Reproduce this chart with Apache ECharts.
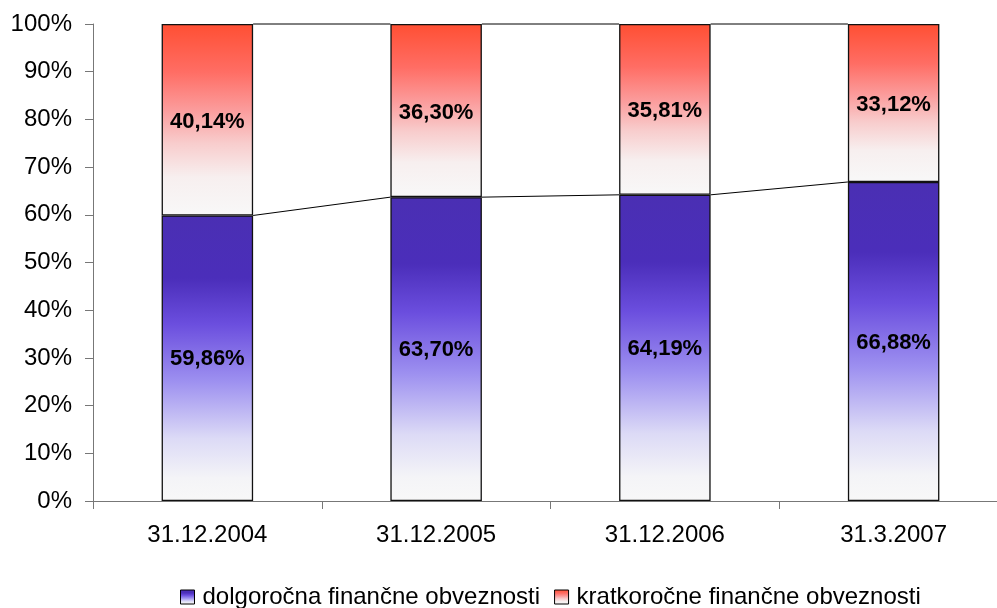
<!DOCTYPE html>
<html>
<head>
<meta charset="utf-8">
<script src="https://cdn.jsdelivr.net/npm/echarts@6/dist/echarts.min.js"></script>
<style>html,body{margin:0;padding:0;background:#fff;overflow:hidden}#c{width:1012px;height:608px}</style>
</head>
<body>
<div id="c"></div>
<script>
const categories = ['31.12.2004', '31.12.2005', '31.12.2006', '31.3.2007'];
const longTerm = [59.86, 63.70, 64.19, 66.88];
const shortTerm = [40.14, 36.30, 35.81, 33.12];
const seriesNames = ['dolgoročna finančne obveznosti', 'kratkoročne finančne obveznosti'];
const yTicks = [0, 10, 20, 30, 40, 50, 60, 70, 80, 90, 100];

const FONT = '"Liberation Sans", Arial, sans-serif';
const fmt = v => v.toFixed(2).replace('.', ',') + '%';

const blueGrad = new echarts.graphic.LinearGradient(0, 0, 0, 1, [
  {offset: 0, color: '#4a2fb3'},
  {offset: 0.22, color: '#4b2eba'},
  {offset: 0.38, color: '#6b4ede'},
  {offset: 0.58, color: '#9d90f0'},
  {offset: 0.78, color: '#dcdaf6'},
  {offset: 0.92, color: '#f4f4f7'},
  {offset: 1, color: '#f8f8f8'}
]);
const redGrad = new echarts.graphic.LinearGradient(0, 0, 0, 1, [
  {offset: 0, color: '#ff4f33'},
  {offset: 0.25, color: '#ff6d64'},
  {offset: 0.45, color: '#fb9c9c'},
  {offset: 0.62, color: '#f8cccc'},
  {offset: 0.8, color: '#f7efef'},
  {offset: 1, color: '#f8f8f8'}
]);

// connector (series line) data built from the values
const connectors = [];
for (let i = 0; i < categories.length - 1; i++) {
  connectors.push([i, longTerm[i], i + 1, longTerm[i + 1]]);
  connectors.push([i, longTerm[i] + shortTerm[i], i + 1, longTerm[i + 1] + shortTerm[i + 1]]);
}

const chart = echarts.init(document.getElementById('c'), null, {renderer: 'canvas'});
chart.setOption({
  animation: false,
  backgroundColor: '#fff',
  grid: {left: 93, top: 24, right: 4, height: 477, containLabel: false},
  legend: {
    data: seriesNames,
    left: 175, top: 580,
    itemWidth: 14, itemHeight: 14, itemGap: 14,
    icon: 'rect',
    textStyle: {fontFamily: FONT, fontSize: 24, color: '#000', padding: [0, 0, 0, 3]},
    itemStyle: {borderColor: '#000', borderWidth: 1}
  },
  xAxis: {
    type: 'category',
    data: categories,
    axisLine: {lineStyle: {color: '#777', width: 1}},
    axisTick: {show: true, length: 8, alignWithLabel: false, lineStyle: {color: '#777'}},
    axisLabel: {fontFamily: FONT, fontSize: 24, color: '#000', margin: 22}
  },
  yAxis: {
    type: 'value',
    min: 0, max: 100, interval: 10,
    splitLine: {show: false},
    axisLine: {show: true, lineStyle: {color: '#777', width: 1}},
    axisTick: {show: true, length: 8, lineStyle: {color: '#777'}},
    axisLabel: {fontFamily: FONT, fontSize: 24, color: '#000', margin: 21,
      formatter: v => yTicks.includes(v) ? v + '%' : ''}
  },
  series: [
    {
      name: seriesNames[0], type: 'bar', stack: 's', data: longTerm,
      barWidth: '40%',
      itemStyle: {color: blueGrad, borderColor: '#111', borderWidth: 1.3},
      label: {show: true, position: 'inside', offset: [0, 1], fontFamily: FONT, fontSize: 22, fontWeight: 'bold', color: '#000',
        formatter: p => fmt(p.value)}
    },
    {
      name: seriesNames[1], type: 'bar', stack: 's', data: shortTerm,
      barWidth: '40%',
      itemStyle: {color: redGrad, borderColor: '#111', borderWidth: 1.3},
      label: {show: true, position: 'inside', offset: [0, 2], fontFamily: FONT, fontSize: 22, fontWeight: 'bold', color: '#000',
        formatter: p => fmt(p.value)}
    },
    {
      type: 'custom', name: 'connectors', data: connectors, silent: true, z: 5,
      encode: {x: 0, y: 1},
      renderItem: (params, api) => {
        const p1 = api.coord([api.value(0), api.value(1)]);
        const p2 = api.coord([api.value(2), api.value(3)]);
        const bw = api.size([1, 0])[0] * 0.4;
        return {type: 'line',
          shape: {x1: p1[0] + bw / 2, y1: p1[1], x2: p2[0] - bw / 2, y2: p2[1]},
          style: {stroke: '#000', lineWidth: 1}};
      }
    }
  ]
});
</script>
</body>
</html>
